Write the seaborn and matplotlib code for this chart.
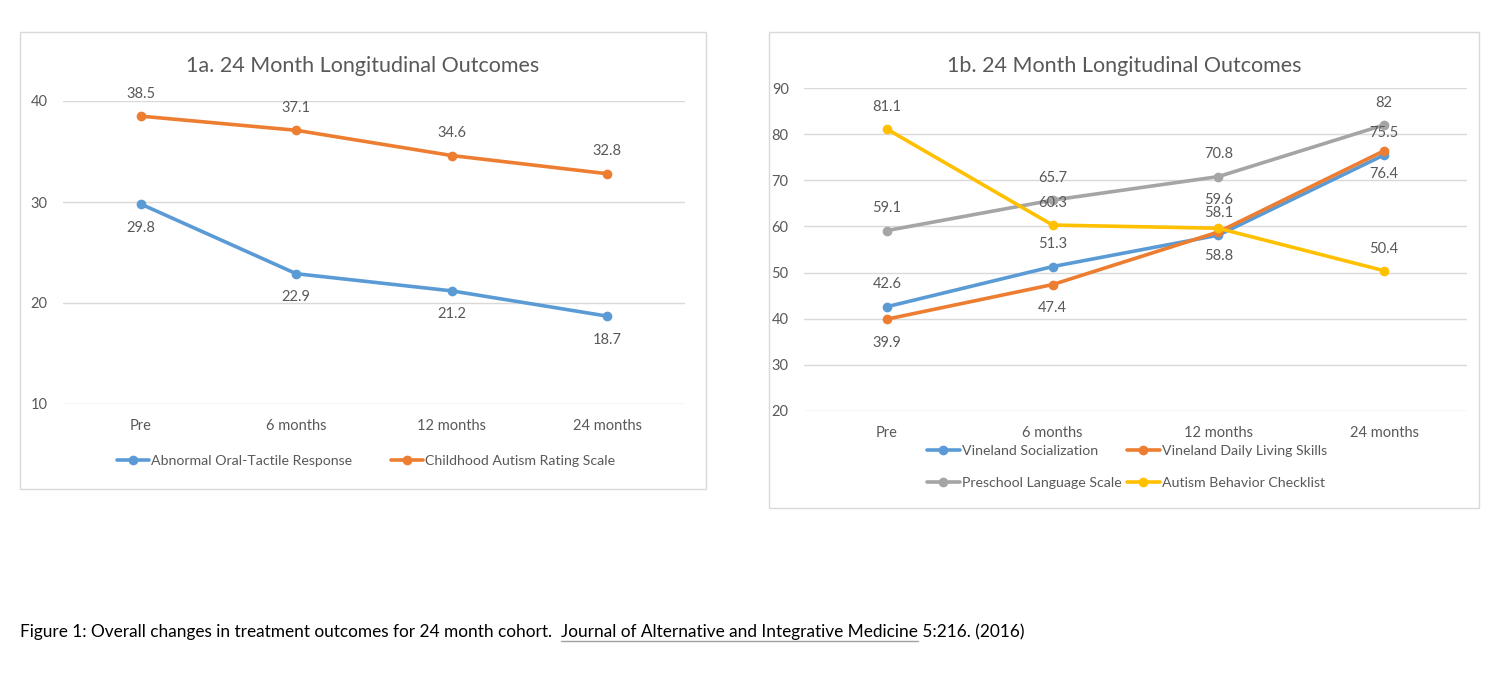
import pandas as pd
import numpy as np
import matplotlib
matplotlib.use("Agg")
import matplotlib.pyplot as plt
import seaborn as sns
from matplotlib.patches import Rectangle
from matplotlib.lines import Line2D

# data
timepoints = ["Pre", "6 months", "12 months", "24 months"]

oral_tactile = [29.8, 22.9, 21.2, 18.7]
cars = [38.5, 37.1, 34.6, 32.8]

vineland_social = [42.6, 51.3, 58.1, 75.5]
vineland_daily = [39.9, 47.4, 58.8, 76.4]
preschool_lang = [59.1, 65.7, 70.8, 82]
abc_checklist = [81.1, 60.3, 59.6, 50.4]

left_series = ["Abnormal Oral-Tactile Response", "Childhood Autism Rating Scale"]
right_series = ["Vineland Socialization", "Vineland Daily Living Skills",
                "Preschool Language Scale", "Autism Behavior Checklist"]

BLUE, ORANGE, GRAY, YELLOW = "#5B9BD5", "#ED7D31", "#A5A5A5", "#FFC000"
TXT = "#595959"
GRID = "#D9D9D9"

sns.set_theme(style="white")
plt.rcParams["font.family"] = ["Lato", "DejaVu Sans"]

W, H = 1500, 681
fig = plt.figure(figsize=(15, 6.81), dpi=100)


def fx(px):
    return px / W


def fy(py):
    return 1 - py / H


def long_df(names, values):
    rows = []
    for n, vals in zip(names, values):
        for t, v in zip(timepoints, vals):
            rows.append({"time": t, "score": v, "series": n})
    return pd.DataFrame(rows)


def style_axes(ax, ylim, yticks):
    ax.set_ylim(*ylim)
    ax.set_yticks(yticks)
    ax.set_xlim(-0.5, 3.5)
    ax.set_xticks(range(4))
    ax.set_xticklabels(timepoints)
    ax.grid(axis="y", color=GRID, lw=1)
    ax.set_axisbelow(True)
    for s in ax.spines.values():
        s.set_visible(False)
    ax.tick_params(axis="both", length=0, labelsize=10.5, colors=TXT)
    ax.tick_params(axis="x", pad=11)
    ax.tick_params(axis="y", pad=11)
    ax.set_xlabel("")
    ax.set_ylabel("")
    if ax.get_legend():
        ax.get_legend().remove()
    ax.patch.set_alpha(0)


def add_labels(ax, vals, where, extra=None):
    for i, v in enumerate(vals):
        dy = 16 if where == "above" else -17
        if extra and i in extra:
            dy += extra[i]
        ax.annotate(f"{v:g}", (i, v), xytext=(0, dy), textcoords="offset points",
                    ha="center", va="center", fontsize=10.5, color=TXT)


# panel frames
fig.add_artist(Rectangle((fx(20), fy(489)), fx(686), (489 - 32) / H, transform=fig.transFigure,
                         fill=False, edgecolor=GRID, lw=1))
fig.add_artist(Rectangle((fx(769), fy(508)), fx(710), (508 - 32) / H, transform=fig.transFigure,
                         fill=False, edgecolor=GRID, lw=1))

# ---- 1a
ax1 = fig.add_axes([fx(63), fy(404), fx(685 - 63), (404 - 101) / H])
df1 = long_df(left_series, [oral_tactile, cars])
sns.lineplot(data=df1, x="time", y="score", hue="series", palette=[BLUE, ORANGE],
             marker="o", markersize=7, markeredgewidth=0, lw=2.6, sort=False, ax=ax1)
style_axes(ax1, (10, 40), [10, 20, 30, 40])
add_labels(ax1, oral_tactile, "below")
add_labels(ax1, cars, "above")
fig.text(fx(363), fy(66), "1a. 24 Month Longitudinal Outcomes", ha="center", va="center",
         fontsize=15.5, color=TXT)

h1 = [Line2D([0], [0], color=c, lw=2.6, marker="o", markersize=7, markeredgewidth=0)
      for c in [BLUE, ORANGE]]
fig.legend(h1, left_series, loc="center", bbox_to_anchor=(fx(366), fy(461)), ncol=2,
           frameon=False, fontsize=10.2, labelcolor=TXT, handlelength=2.3,
           handletextpad=0.15, columnspacing=2.7)

# ---- 1b
ax2 = fig.add_axes([fx(804), fy(411), fx(1467 - 804), (411 - 88) / H])
df2 = long_df(right_series, [vineland_social, vineland_daily, preschool_lang, abc_checklist])
sns.lineplot(data=df2, x="time", y="score", hue="series", palette=[BLUE, ORANGE, GRAY, YELLOW],
             marker="o", markersize=7, markeredgewidth=0, lw=2.6, sort=False, ax=ax2)
style_axes(ax2, (20, 90), [20, 30, 40, 50, 60, 70, 80, 90])
add_labels(ax2, vineland_social, "above")
add_labels(ax2, vineland_daily, "below")
add_labels(ax2, preschool_lang, "above")
add_labels(ax2, abc_checklist, "above", extra={2: 4})
fig.text(fx(1124), fy(66), "1b. 24 Month Longitudinal Outcomes", ha="center", va="center",
         fontsize=15.5, color=TXT)

order = [0, 2, 1, 3]
h2 = [Line2D([0], [0], color=[BLUE, ORANGE, GRAY, YELLOW][i], lw=2.6, marker="o",
             markersize=7, markeredgewidth=0) for i in order]
fig.legend(h2, [right_series[i] for i in order], loc="center", bbox_to_anchor=(fx(1127), fy(467)),
           ncol=2, frameon=False, fontsize=10.2, labelcolor=TXT, handlelength=2.3,
           handletextpad=0.15, columnspacing=0.4, labelspacing=1.4)

# caption with underlined journal name
cap_y = fy(632)
cap_fs = 12.4
part1 = fig.text(fx(20), cap_y, "Figure 1: Overall changes in treatment outcomes for 24 month cohort.  ",
                 ha="left", va="center", fontsize=cap_fs, color="black")
r = fig.canvas.get_renderer()
bb = part1.get_window_extent(r)
part2 = fig.text(bb.x1 / W, cap_y, "Journal of Alternative and Integrative Medicine",
                 ha="left", va="center", fontsize=cap_fs, color="black")
bb2 = part2.get_window_extent(r)
fig.add_artist(Line2D([bb2.x0 / W, bb2.x1 / W], [bb2.y0 / H - 0.002, bb2.y0 / H - 0.002],
                      transform=fig.transFigure, color="#A0A0A0", lw=1))
fig.text(bb2.x1 / W, cap_y, " 5:216. (2016)", ha="left", va="center", fontsize=cap_fs, color="black")

fig.savefig("out.png", dpi=100, facecolor="white")
